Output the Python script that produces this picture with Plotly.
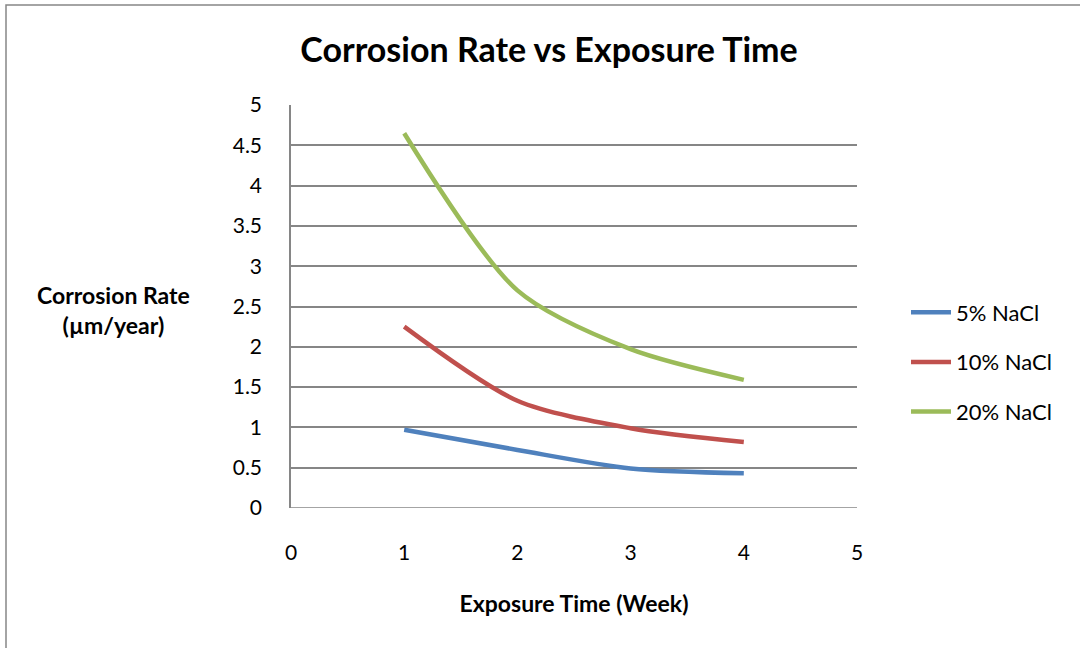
import plotly.graph_objects as go

weeks = [1, 2, 3, 4]
nacl_5 = [0.97, 0.72, 0.49, 0.43]
nacl_10 = [2.25, 1.33, 0.99, 0.82]
nacl_20 = [4.65, 2.70, 1.97, 1.59]
series_names = ["5% NaCl", "10% NaCl", "20% NaCl"]
colors = ["#4F81BD", "#C0504D", "#9BBB59"]
y_ticks = [0, 0.5, 1, 1.5, 2, 2.5, 3, 3.5, 4, 4.5, 5]
y_tick_labels = ["0", "0.5", "1", "1.5", "2", "2.5", "3", "3.5", "4", "4.5", "5"]
x_ticks = [0, 1, 2, 3, 4, 5]

FONT = "Lato"

fig = go.Figure()
for i, (name, vals) in enumerate(zip(series_names, [nacl_5, nacl_10, nacl_20])):
    fig.add_trace(go.Scatter(
        x=weeks, y=vals, name=name, mode="lines",
        line=dict(color=colors[i], width=4.5, shape="spline", smoothing=0.8),
        legendgroup=f"g{i}",
    ))

fig.update_layout(
    width=1080, height=648,
    margin=dict(l=291, r=223, t=105, b=140),
    paper_bgcolor="white", plot_bgcolor="white",
    font=dict(family=FONT, color="black", size=21),
    title=dict(text="<b>Corrosion Rate vs Exposure Time</b>", x=549/1080, xanchor="center",
               y=1 - 50/648, yanchor="middle", font=dict(size=34, family=FONT)),
    showlegend=True,
    legend=dict(x=(906-291)/566, xanchor="left", y=(508-362)/403, yanchor="middle",
                font=dict(size=22, family=FONT), traceorder="grouped", tracegroupgap=18,
                itemwidth=40, bgcolor="rgba(0,0,0,0)"),
    xaxis=dict(range=[0, 5], tickvals=x_ticks, showgrid=False, zeroline=False,
               showline=False, ticks="", tickfont=dict(size=21), ticklabelstandoff=30,
               title=dict(text="<b>Exposure Time (Week)</b>", font=dict(size=23), standoff=32)),
    yaxis=dict(range=[0, 5], tickvals=y_ticks, ticktext=y_tick_labels, showgrid=True,
               gridcolor="#868686", gridwidth=1.5, zeroline=False, showline=True,
               linecolor="#868686", linewidth=1.5, ticks="", tickfont=dict(size=21),
               ticklabelstandoff=23),
)

fig.add_shape(type="line", xref="paper", yref="y", x0=0, x1=1, y0=0, y1=0,
              line=dict(color="#868686", width=1.5))

fig.add_annotation(text="<b>Corrosion Rate<br>(µm/year)</b>", xref="paper", yref="paper",
                   x=(113-291)/566, y=(508-310)/403, xanchor="center", yanchor="middle",
                   showarrow=False, font=dict(size=23, family=FONT), align="center")

fig.add_shape(type="rect", xref="paper", yref="paper",
              x0=(6-291)/566, x1=(1090-291)/566, y0=(508-660)/403, y1=(508-5)/403,
              line=dict(color="#868686", width=1.5), fillcolor="rgba(0,0,0,0)", layer="below")

fig.write_html("out.html")
